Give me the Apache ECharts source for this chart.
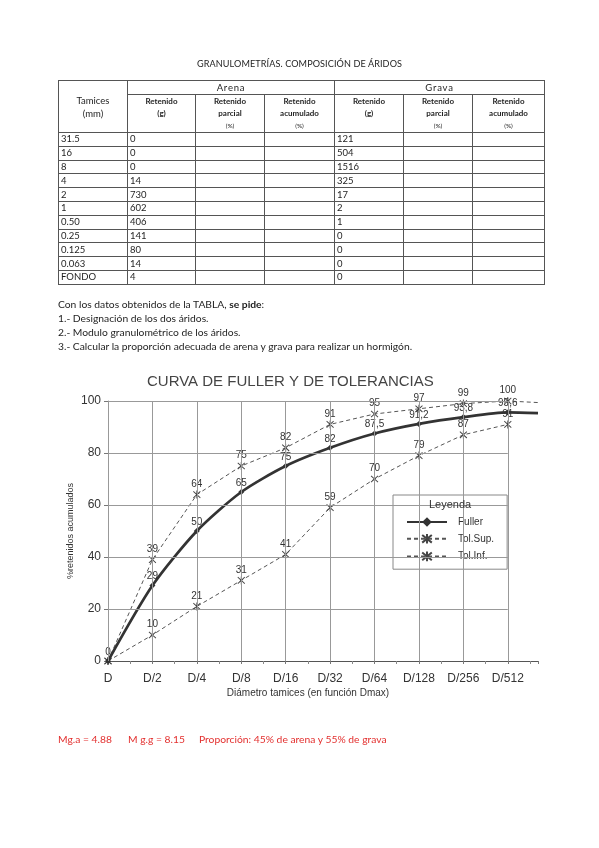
<!DOCTYPE html>
<html>
<head>
<meta charset="utf-8">
<script src="https://cdn.jsdelivr.net/npm/echarts/dist/echarts.min.js"></script>
<style>
html,body{margin:0;padding:0;background:#fff;}
#page{position:relative;width:599px;height:848px;overflow:hidden;font-family:Lato,'Open Sans',sans-serif;color:#1e1e1e;}
#chart{position:absolute;left:0;top:0;width:599px;height:848px;}
.txt{position:absolute;white-space:nowrap;font-size:10.3px;line-height:12px;z-index:2;}
#tbl{position:absolute;left:58px;top:80px;border-collapse:collapse;table-layout:fixed;font-size:9.5px;z-index:2;width:486px;}
#tbl td{border:1px solid #555;padding:0 0 0 2px;white-space:nowrap;overflow:hidden;line-height:12px;box-sizing:border-box;}
#tbl td.c{text-align:center;padding:0;}
#tbl tr.r1 td{height:14px;}
#tbl tr.r2 td{height:33px;vertical-align:top;font-size:8px;font-weight:bold;line-height:12px;}
#tbl tr.r2 td small{font-size:6.5px;font-weight:normal;}
#tbl tr.d td{height:13.8px;line-height:12px;}
.red{color:#e3302f;}
</style>
</head>
<body>
<div id="page">
  <div id="chart"></div>
  <div class="txt" id="title" style="left:0;width:599px;text-align:center;top:58px;font-size:9.1px;letter-spacing:0.1px;"></div>
  <table id="tbl"></table>
  <div class="txt" id="q0" style="left:58px;top:298px;"></div>
  <div class="txt" id="q1" style="left:58px;top:312px;"></div>
  <div class="txt" id="q2" style="left:58px;top:326px;"></div>
  <div class="txt" id="q3" style="left:58px;top:340px;"></div>
  <div class="txt red" id="a0" style="left:58px;top:733px;"></div>
  <div class="txt red" id="a1" style="left:128px;top:733px;"></div>
  <div class="txt red" id="a2" style="left:199px;top:733px;"></div>
</div>
<script>
// ---------- data ----------
const pageTitle = 'GRANULOMETRÍAS. COMPOSICIÓN DE ÁRIDOS';
const tamices = ['31.5','16','8','4','2','1','0.50','0.25','0.125','0.063','FONDO'];
const arenaRetenido = [0,0,0,14,730,602,406,141,80,14,4];
const gravaRetenido = [121,504,1516,325,17,2,1,0,0,0,0];
const questionLines = [
  'Con los datos obtenidos de la TABLA, <b>se pide</b>:',
  '1.- Designación de los dos áridos.',
  '2.- Modulo granulométrico de los áridos.',
  '3.- Calcular la proporción adecuada de arena y grava para realizar un hormigón.'
];
const answers = ['Mg.a = 4.88', 'M g.g = 8.15', 'Proporción: 45% de arena y 55% de grava'];

const chartTitle = 'CURVA DE FULLER Y DE TOLERANCIAS';
const xLabels = ['D','D/2','D/4','D/8','D/16','D/32','D/64','D/128','D/256','D/512'];
const yTicks = [0,20,40,60,80,100];
const fuller = [0,29,50,65,75,82,87.5,91.2,93.8,95.6];
const tolSup = [0,39,64,75,82,91,95,97,99,100];
const tolInf = [0,10,21,31,41,59,70,79,87,91];
// the curves run a little past D/512 in the original
const tailX = 9.68;
const fullerTail = 95.3;
const tolSupTail = 99.4;

// ---------- text & table ----------
document.getElementById('title').textContent = pageTitle;
questionLines.forEach((t,i)=>{ document.getElementById('q'+i).innerHTML = t; });
answers.forEach((t,i)=>{ document.getElementById('a'+i).textContent = t; });

const colW = [69,68,69,70,69,69,72];
const tbl = document.getElementById('tbl');
let html = '<colgroup>' + colW.map(w=>'<col style="width:'+w+'px">').join('') + '</colgroup>';
html += '<tr class="r1"><td class="c" rowspan="2" style="vertical-align:middle;font-size:9.5px;line-height:13px;">Tamices<br>(mm)</td>' +
        '<td class="c" colspan="3" style="letter-spacing:0.8px;">Arena</td><td class="c" colspan="3" style="letter-spacing:0.8px;">Grava</td></tr>';
const sub = ['Retenido<br>(g)','Retenido<br>parcial<br><small>(%)</small>','Retenido<br>acumulado<br><small>(%)</small>'];
html += '<tr class="r2">' + sub.concat(sub).map(s=>'<td class="c">'+s+'</td>').join('') + '</tr>';
tamices.forEach((t,i)=>{
  html += '<tr class="d"><td>'+t+'</td><td>'+arenaRetenido[i]+'</td><td></td><td></td><td>'+gravaRetenido[i]+'</td><td></td><td></td></tr>';
});
tbl.innerHTML = html;

// ---------- chart ----------
const chart = echarts.init(document.getElementById('chart'), null, {renderer:'canvas'});
const AX = 'Liberation Sans, Arial, sans-serif';
const comma = p => String(p.value[1]).replace('.', ',');
function build(arr, hideFirstLabel, tail){
  const d = arr.map((v,i)=> (i===0 && hideFirstLabel) ? {value:[i,v], label:{show:false}} : [i,v]);
  if (tail !== undefined) d.push({value:[tailX, tail], label:{show:false}, symbol:'none'});
  return d;
}
const lastX = xLabels.length - 1;
const yMin = yTicks[0], yMax = yTicks[yTicks.length-1];
const gridLines = xLabels.map((_,i)=>[{coord:[i,yMin]},{coord:[i,yMax]}])
  .concat(yTicks.slice(1).map(y=>[{coord:[0,y]},{coord:[lastX,y]}]));

const starPath = 'path://M0,1L8,9M8,1L0,9M4,0L4,10';
const labelStyle = {show:true, position:'top', distance:1, fontSize:10, color:'#333', fontFamily:AX, formatter:comma};

chart.setOption({
  animation:false,
  backgroundColor:'transparent',
  title:[
    {text:chartTitle, left:147, top:374, padding:0,
     textStyle:{fontSize:15, fontWeight:'normal', color:'#444', fontFamily:AX}},
    {text:'Leyenda', left:429, top:499, padding:0, z:10,
     textStyle:{fontSize:11, fontWeight:'normal', color:'#333', fontFamily:AX}}
  ],
  legend:{
    data:['Fuller','Tol.Sup.','Tol.Inf.'],
    orient:'vertical', left:393, top:495,
    padding:[22,13,7,13],
    itemWidth:40, itemHeight:12, itemGap:6,
    backgroundColor:'#fff', borderColor:'#888', borderWidth:1, borderRadius:0,
    textStyle:{fontSize:10, color:'#333', fontFamily:AX, padding:[0,0,0,6]}
  },
  grid:{left:108, top:401, width:430, height:260, containLabel:false, outerBoundsMode:'none'},
  xAxis:{
    type:'value', min:0, max:tailX, interval:1,
    name:'Diámetro tamices (en función Dmax)', nameLocation:'middle', nameGap:27,
    nameMoveOverlap:false,
    nameTextStyle:{fontSize:10, color:'#333', fontFamily:AX, padding:[0,30,0,0]},
    axisLine:{show:true, lineStyle:{color:'#555', width:1}},
    axisTick:{show:true, length:3, lineStyle:{color:'#777'}},
    minorTick:{show:true, splitNumber:2, length:3, lineStyle:{color:'#888'}},
    axisLabel:{fontSize:12, color:'#333', fontFamily:AX, margin:12, showMaxLabel:false,
      formatter:v=> (Number.isInteger(v) && xLabels[v] !== undefined) ? xLabels[v] : ''},
    splitLine:{show:false}
  },
  yAxis:{
    type:'value', min:yMin, max:yMax, interval:yTicks[1]-yTicks[0],
    name:'%retenidos acumulados', nameLocation:'middle', nameGap:33,
    nameMoveOverlap:false,
    nameTextStyle:{fontSize:9, color:'#333', fontFamily:AX},
    axisLine:{show:true, lineStyle:{color:'#999', width:1}},
    axisTick:{show:true, length:4, lineStyle:{color:'#777'}},
    axisLabel:{fontSize:12, color:'#333', fontFamily:AX, margin:7},
    splitLine:{show:false}
  },
  series:[
    {name:'grid', type:'line', data:[], z:1, silent:true,
     markLine:{silent:true, symbol:['none','none'], label:{show:false},
       lineStyle:{color:'#999', width:1, type:'solid'}, emphasis:{disabled:true},
       data:gridLines}},
    {name:'Tol.Inf.', type:'line', data:build(tolInf, true), clip:false,
     symbol:starPath, symbolSize:[7,8], showSymbol:true,
     itemStyle:{color:'rgba(0,0,0,0)', borderColor:'#444', borderWidth:1},
     lineStyle:{color:'#555', width:1, type:[4,3]}, label:labelStyle, z:3},
    {name:'Tol.Sup.', type:'line', data:build(tolSup, true, tolSupTail), clip:false,
     symbol:starPath, symbolSize:[7,8], showSymbol:true,
     itemStyle:{color:'rgba(0,0,0,0)', borderColor:'#444', borderWidth:1},
     lineStyle:{color:'#555', width:1, type:[4,3]}, label:labelStyle, z:3},
    {name:'Fuller', type:'line', data:build(fuller, false, fullerTail), clip:false,
     smooth:0.25, symbol:'diamond', symbolSize:6, showSymbol:true,
     itemStyle:{color:'#333'},
     lineStyle:{color:'#333', width:2.7}, label:labelStyle, z:4}
  ]
});
</script>
</body>
</html>
